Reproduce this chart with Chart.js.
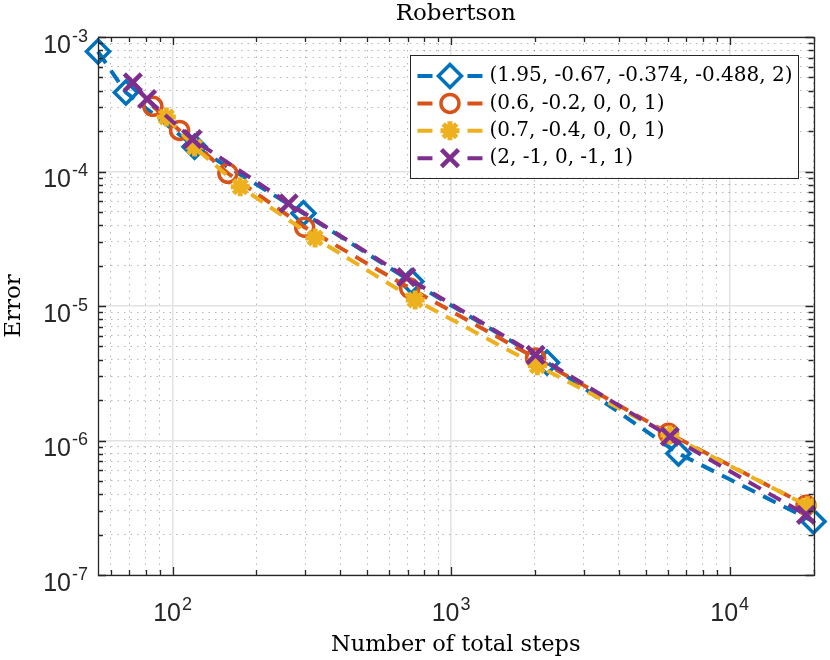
<!DOCTYPE html>
<html>
<head>
<meta charset="utf-8">
<script src="https://cdn.jsdelivr.net/npm/chart.js@4"></script>
<style>
  body { margin: 0; background: #fff; }
  #wrap { width: 830px; height: 660px; }
</style>
</head>
<body>
<div id="wrap"><canvas id="Robertson"></canvas></div>
<script>
  const labels = [
    '(1.95, -0.67, -0.374, -0.488, 2)',
    '(0.6, -0.2, 0, 0, 1)',
    '(0.7, -0.4, 0, 0, 1)',
    '(2, -1, 0, -1, 1)',
  ];

  const stepsA = [54, 68, 120, 295, 720, 2210, 6550, 20000];
  const errA = [7.8e-4, 3.87e-4, 1.53e-4, 4.9e-5, 1.52e-5, 3.8e-6, 8.0e-7, 2.5e-7];

  const stepsB = [85, 106, 158, 298, 710, 2010, 6030, 18800];
  const errB = [3.05e-4, 2.02e-4, 9.7e-5, 3.85e-5, 1.36e-5, 4.1e-6, 1.13e-6, 3.3e-7];

  const stepsC = [95, 120, 175, 325, 743, 2040, 6100, 19000];
  const errC = [2.54e-4, 1.52e-4, 7.7e-5, 3.2e-5, 1.11e-5, 3.6e-6, 1.1e-6, 3.27e-7];

  const stepsD = [72, 81, 118, 261, 690, 2010, 6100, 18800];
  const errD = [4.6e-4, 3.46e-4, 1.74e-4, 5.8e-5, 1.64e-5, 4.33e-6, 1.07e-6, 2.8e-7];

  const xRange = [54, 20000];
  const yRange = [1e-7, 1e-3];

  const colors = ['#0072BD', '#D95319', '#EDB120', '#7E2F8E'];
  const markers = ['rectRot', 'circle', 'star', 'crossRot'];
  const markerSize = [11.5, 9, 9.5, 12];
  const markerWidth = [3.5, 3.5, 5, 4.5];

  const axisColor = '#262626';
  const sansFont = '"Liberation Sans", Arial, sans-serif';
  const serifFont = '"DejaVu Serif", serif';

  function pairs(xs, ys) {
    return xs.map((x, i) => ({x: x, y: ys[i]}));
  }

  // 1..9 x 10^n ticks, majors on the decades
  function logTicks(lo, hi) {
    const t = [];
    for (let e = Math.floor(Math.log10(lo)); e <= Math.ceil(Math.log10(hi)); e++) {
      for (let k = 1; k < 10; k++) {
        const v = k * Math.pow(10, e);
        if (v >= lo * 0.999 && v <= hi * 1.001) t.push({value: v, major: k === 1, exp: e});
      }
    }
    return t;
  }

  const series = [[stepsA, errA], [stepsB, errB], [stepsC, errC], [stepsD, errD]];

  const datasets = series.map((s, i) => ({
    label: labels[i],
    data: pairs(s[0], s[1]),
    borderColor: colors[i],
    backgroundColor: colors[i],
    borderWidth: 4,
    borderDash: [14, 9],
    pointStyle: markers[i],
    pointRadius: markerSize[i],
    pointBorderWidth: markerWidth[i],
    pointBackgroundColor: 'rgba(0,0,0,0)',
    pointBorderColor: colors[i],
    tension: 0,
    clip: false,
    order: 3 - i,
  }));

  const gridOpts = {
    drawTicks: false,
    color: ctx => (ctx.tick && ctx.tick.major) ? '#e2e2e2' : 'rgba(0,0,0,0.28)',
    lineWidth: ctx => (ctx.tick && ctx.tick.major) ? 1.5 : 1,
  };
  const borderOpts = {
    display: false,
    dash: ctx => (ctx.tick && !ctx.tick.major) ? [1.5, 5] : [],
  };

  // box, inward ticks and 10^n labels
  const axesDecor = {
    id: 'axesDecor',
    afterDraw(chart) {
      const ctx = chart.ctx;
      const a = chart.chartArea;
      const xs = chart.scales.x;
      const ys = chart.scales.y;
      ctx.save();
      ctx.strokeStyle = axisColor;
      ctx.lineWidth = 1.3;
      ctx.beginPath();
      xs.ticks.forEach(t => {
        const px = Math.round(xs.getPixelForValue(t.value)) + 0.5;
        const len = t.major ? 8 : 5;
        ctx.moveTo(px, a.bottom); ctx.lineTo(px, a.bottom - len);
        ctx.moveTo(px, a.top); ctx.lineTo(px, a.top + len);
      });
      ys.ticks.forEach(t => {
        const py = Math.round(ys.getPixelForValue(t.value)) + 0.5;
        const len = t.major ? 8 : 5;
        ctx.moveTo(a.left, py); ctx.lineTo(a.left + len, py);
        ctx.moveTo(a.right, py); ctx.lineTo(a.right - len, py);
      });
      ctx.stroke();
      ctx.strokeRect(Math.round(a.left) + 0.5, Math.round(a.top) + 0.5,
        Math.round(a.right - a.left), Math.round(a.bottom - a.top));

      ctx.fillStyle = axisColor;
      ctx.textBaseline = 'alphabetic';
      ctx.textAlign = 'left';
      const baseF = '25px ' + sansFont;
      const supF = '18px ' + sansFont;
      const label = (t, cx, right, base) => {
        const sup = String(t.exp);
        ctx.font = baseF;
        const wb = ctx.measureText('10').width + 1;
        ctx.font = supF;
        const ws = ctx.measureText(sup).width;
        const x0 = right != null ? right - wb - ws : cx - (wb + ws) / 2;
        ctx.font = baseF;
        ctx.fillText('10', x0, base);
        ctx.font = supF;
        ctx.fillText(sup, x0 + wb, base - 11);
      };
      xs.ticks.filter(t => t.major).forEach(t => {
        label(t, xs.getPixelForValue(t.value), null, a.bottom + 46);
      });
      ys.ticks.filter(t => t.major).forEach(t => {
        label(t, null, a.left - 10, ys.getPixelForValue(t.value) + 15.5);
      });
      ctx.restore();
    }
  };

  // legend box inside the axes, top right
  const boxLegend = {
    id: 'boxLegend',
    afterDraw(chart) {
      const ctx = chart.ctx;
      const a = chart.chartArea;
      const sets = chart.data.datasets;
      ctx.save();
      ctx.font = '20px ' + serifFont;
      const tw = Math.max(...sets.map(d => ctx.measureText(d.label).width));
      const rowH = 27.4;
      const w = 79 + tw + 6;
      const h = rowH * sets.length + 13;
      const left = a.right - 15 - w;
      const top = a.top + 18;
      ctx.fillStyle = '#fff';
      ctx.fillRect(left, top, w, h);
      ctx.strokeStyle = axisColor;
      ctx.lineWidth = 1;
      ctx.strokeRect(Math.round(left) + 0.5, Math.round(top) + 0.5, Math.round(w), Math.round(h));
      sets.forEach((d, i) => {
        const cy = top + 21 + i * rowH;
        ctx.strokeStyle = d.borderColor;
        ctx.lineWidth = 4;
        ctx.setLineDash([]);
        ctx.beginPath();
        ctx.moveTo(left + 7, cy); ctx.lineTo(left + 22, cy);
        ctx.moveTo(left + 57, cy); ctx.lineTo(left + 72, cy);
        ctx.stroke();
        ctx.fillStyle = 'rgba(0,0,0,0)';
        ctx.lineWidth = d.pointBorderWidth;
        Chart.helpers.drawPoint(ctx, {
          pointStyle: d.pointStyle, radius: d.pointRadius,
          borderWidth: d.pointBorderWidth, rotation: 0
        }, left + 39.5, cy);
        ctx.fillStyle = '#000';
        ctx.textBaseline = 'middle';
        ctx.textAlign = 'left';
        ctx.fillText(d.label, left + 79, cy);
      });
      ctx.restore();
    }
  };

  const config = {
    type: 'line',
    data: {datasets: datasets},
    options: {
      responsive: true,
      maintainAspectRatio: false,
      animation: false,
      events: [],
      layout: {padding: {left: 0, right: 12, top: 0, bottom: 0}},
      plugins: {
        legend: {display: false},
        tooltip: {enabled: false},
        title: {
          display: true,
          text: 'Robertson',
          fullSize: false,
          color: '#000',
          font: {family: serifFont, size: 23, weight: 'normal', lineHeight: 1.2},
          padding: {top: 0.2, bottom: 9.2},
        },
      },
      scales: {
        x: {
          type: 'logarithmic',
          min: xRange[0],
          max: xRange[1],
          afterBuildTicks: s => { s.ticks = logTicks(xRange[0], xRange[1]); },
          afterFit: s => { s.height = 85; },
          ticks: {display: false, autoSkip: false},
          grid: gridOpts,
          border: borderOpts,
          title: {
            display: true,
            text: 'Number of total steps',
            color: '#000',
            font: {family: serifFont, size: 22.5, lineHeight: 1.2},
            padding: {top: 0, bottom: 1},
          },
        },
        y: {
          type: 'logarithmic',
          min: yRange[0],
          max: yRange[1],
          afterBuildTicks: s => { s.ticks = logTicks(yRange[0], yRange[1]); },
          afterFit: s => { s.width = 98; },
          ticks: {display: false, autoSkip: false},
          grid: gridOpts,
          border: borderOpts,
          title: {
            display: true,
            text: 'Error',
            color: '#000',
            font: {family: serifFont, size: 23, lineHeight: 1.2},
            padding: {top: 0, bottom: 0},
          },
        },
      },
    },
    plugins: [axesDecor, boxLegend],
  };

  const robertson = new Chart(document.getElementById('Robertson'), config);
</script>
</body>
</html>
